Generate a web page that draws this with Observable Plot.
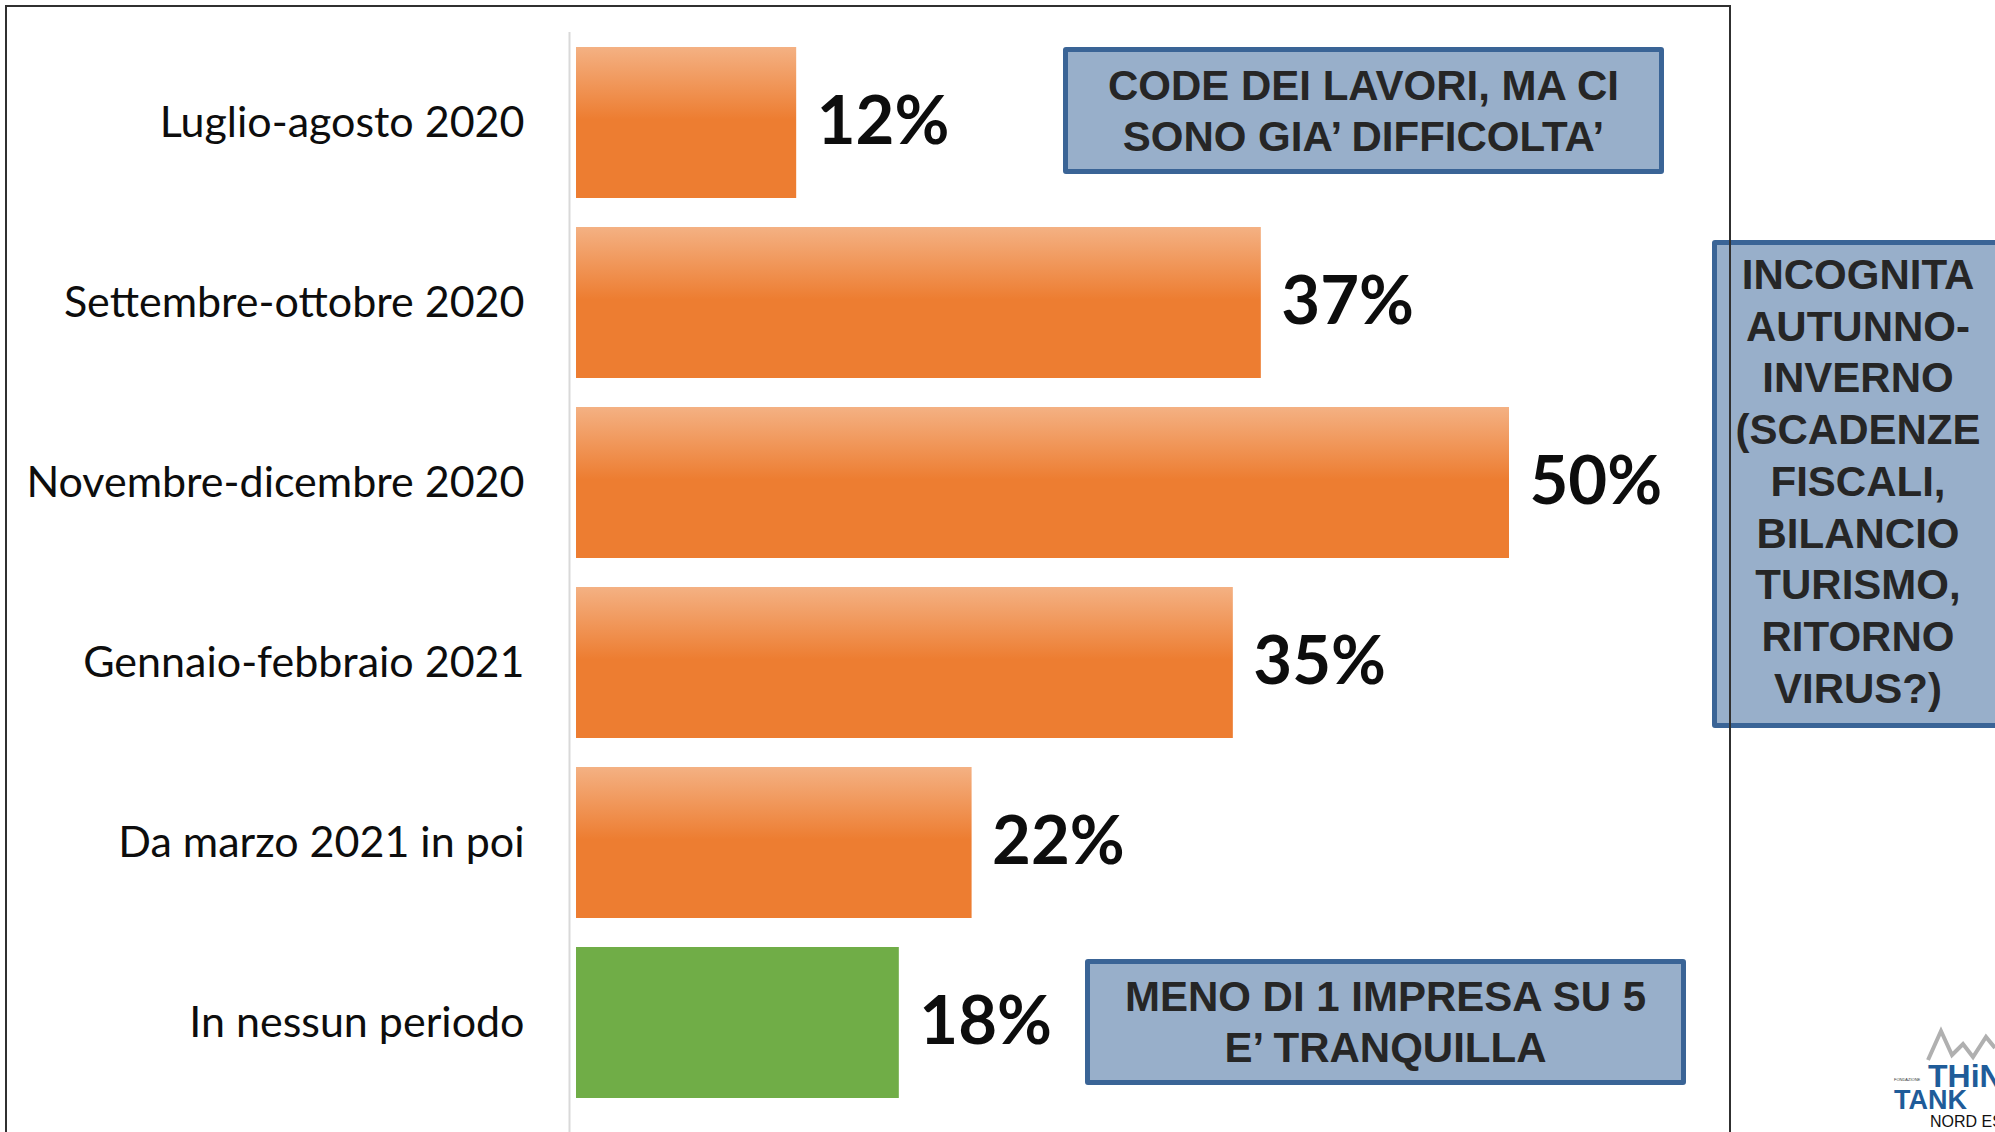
<!DOCTYPE html>
<html>
<head>
<meta charset="utf-8">
<script src="https://cdn.jsdelivr.net/npm/d3@7"></script>
<script src="https://cdn.jsdelivr.net/npm/@observablehq/plot@0.6"></script>
<style>
  html, body { margin: 0; padding: 0; background: #fff; width: 1995px; height: 1132px; overflow: hidden; }
  #wrap { position: relative; width: 1995px; height: 1132px; overflow: hidden; }
  #chart { position: absolute; left: 0; top: 0; }
  .note {
    position: absolute; box-sizing: border-box;
    background: #98AFCA; border: 5px solid #3A6496; border-radius: 3px;
    font-family: "Liberation Sans", Arial, sans-serif; font-weight: bold;
    font-size: 42px; line-height: 51px; color: #262626; text-align: center;
    display: flex; align-items: center; justify-content: center;
  }
  #frame { position: absolute; left: 5px; top: 5px; width: 1726px; height: 1300px;
    border: 2px solid #303030; box-sizing: border-box; pointer-events: none; }
  #logo { position: absolute; left: 0; top: 0; }
</style>
</head>
<body>
<div id="wrap">
  <div id="chart"></div>
  <div class="note" style="left:1063px; top:47px; width:601px; height:127px;">CODE DEI LAVORI, MA CI<br>SONO GIA’ DIFFICOLTA’</div>
  <div class="note" style="left:1712px; top:240px; width:292px; height:488px; align-items:flex-start; padding-top:4px; line-height:51.7px;">INCOGNITA<br>AUTUNNO-<br>INVERNO<br>(SCADENZE<br>FISCALI,<br>BILANCIO<br>TURISMO,<br>RITORNO<br>VIRUS?)</div>
  <div class="note" style="left:1085px; top:959px; width:601px; height:126px;">MENO DI 1 IMPRESA SU 5<br>E’ TRANQUILLA</div>
  <div id="frame"></div>
  <svg id="logo" width="1995" height="1132">
    <polyline points="1928,1060 1941,1031 1952,1055 1963,1044 1973,1057 1986,1037 1995,1048" fill="none" stroke="#B0B0B0" stroke-width="4"/>
    <text x="1928" y="1087" font-family="'Liberation Sans Narrow','Liberation Sans',sans-serif" font-weight="bold" font-size="32" fill="#1F5C99">THiNK</text>
    <text x="1894" y="1081" font-family="'Liberation Sans',sans-serif" font-size="4" fill="#333">FONDAZIONE</text>
    <text x="1894" y="1109" font-family="'Liberation Sans Narrow','Liberation Sans',sans-serif" font-weight="bold" font-size="27" fill="#1F5C99">TANK</text>
    <text x="1930" y="1127" font-family="'Liberation Sans',sans-serif" font-size="16" fill="#111">NORD EST</text>
  </svg>
</div>
<script>
// Data
const categories = [
  "Luglio-agosto 2020",
  "Settembre-ottobre 2020",
  "Novembre-dicembre 2020",
  "Gennaio-febbraio 2021",
  "Da marzo 2021 in poi",
  "In nessun periodo"
];
const values = [11.8, 36.7, 50.0, 35.2, 21.2, 17.3];
const valueLabels = ["12%", "37%", "50%", "35%", "22%", "18%"];
const groups = ["periodo", "periodo", "periodo", "periodo", "periodo", "nessuno"];

const data = categories.map((c, i) => ({ category: c, value: values[i], label: valueLabels[i], group: groups[i] }));

const gradientDefs = () => {
  const defs = d3.create("svg:defs");
  const g = defs.append("linearGradient")
    .attr("id", "orangeGrad").attr("x1", 0).attr("y1", 0).attr("x2", 0).attr("y2", 1);
  g.append("stop").attr("offset", "0%").attr("stop-color", "#F4B183");
  g.append("stop").attr("offset", "48%").attr("stop-color", "#ED7D31");
  g.append("stop").attr("offset", "100%").attr("stop-color", "#ED7D31");
  return defs.node();
};

const chart = Plot.plot({
  width: 1995,
  height: 1132,
  marginLeft: 576,
  marginRight: 486,
  marginTop: 17,
  marginBottom: 4,
  style: { fontFamily: "Lato, sans-serif", background: "transparent", color: "#0d0d0d" },
  x: { domain: [0, 50], axis: null },
  y: { domain: categories, padding: 0.16, axis: null },
  marks: [
    gradientDefs,
    Plot.ruleX([0], { dx: -7, stroke: "#d9d9d9", strokeWidth: 2, insetTop: 15, insetBottom: -10 }),
    Plot.barX(data.filter(d => d.group === "periodo"), { x: "value", y: "category", fill: "url(#orangeGrad)" }),
    Plot.barX(data.filter(d => d.group === "nessuno"), { x: "value", y: "category", fill: "#70AD47" }),
    Plot.text(data, { x: "value", y: "category", text: "label", textAnchor: "start", dx: 20, fontSize: 67, fontWeight: "bold", fill: "#0d0d0d" }),
    Plot.axisY({ tickSize: 0, tickPadding: 52, fontSize: 43, fontFamily: "Lato, sans-serif", label: null })
  ]
});
document.getElementById("chart").appendChild(chart);
</script>
</body>
</html>
